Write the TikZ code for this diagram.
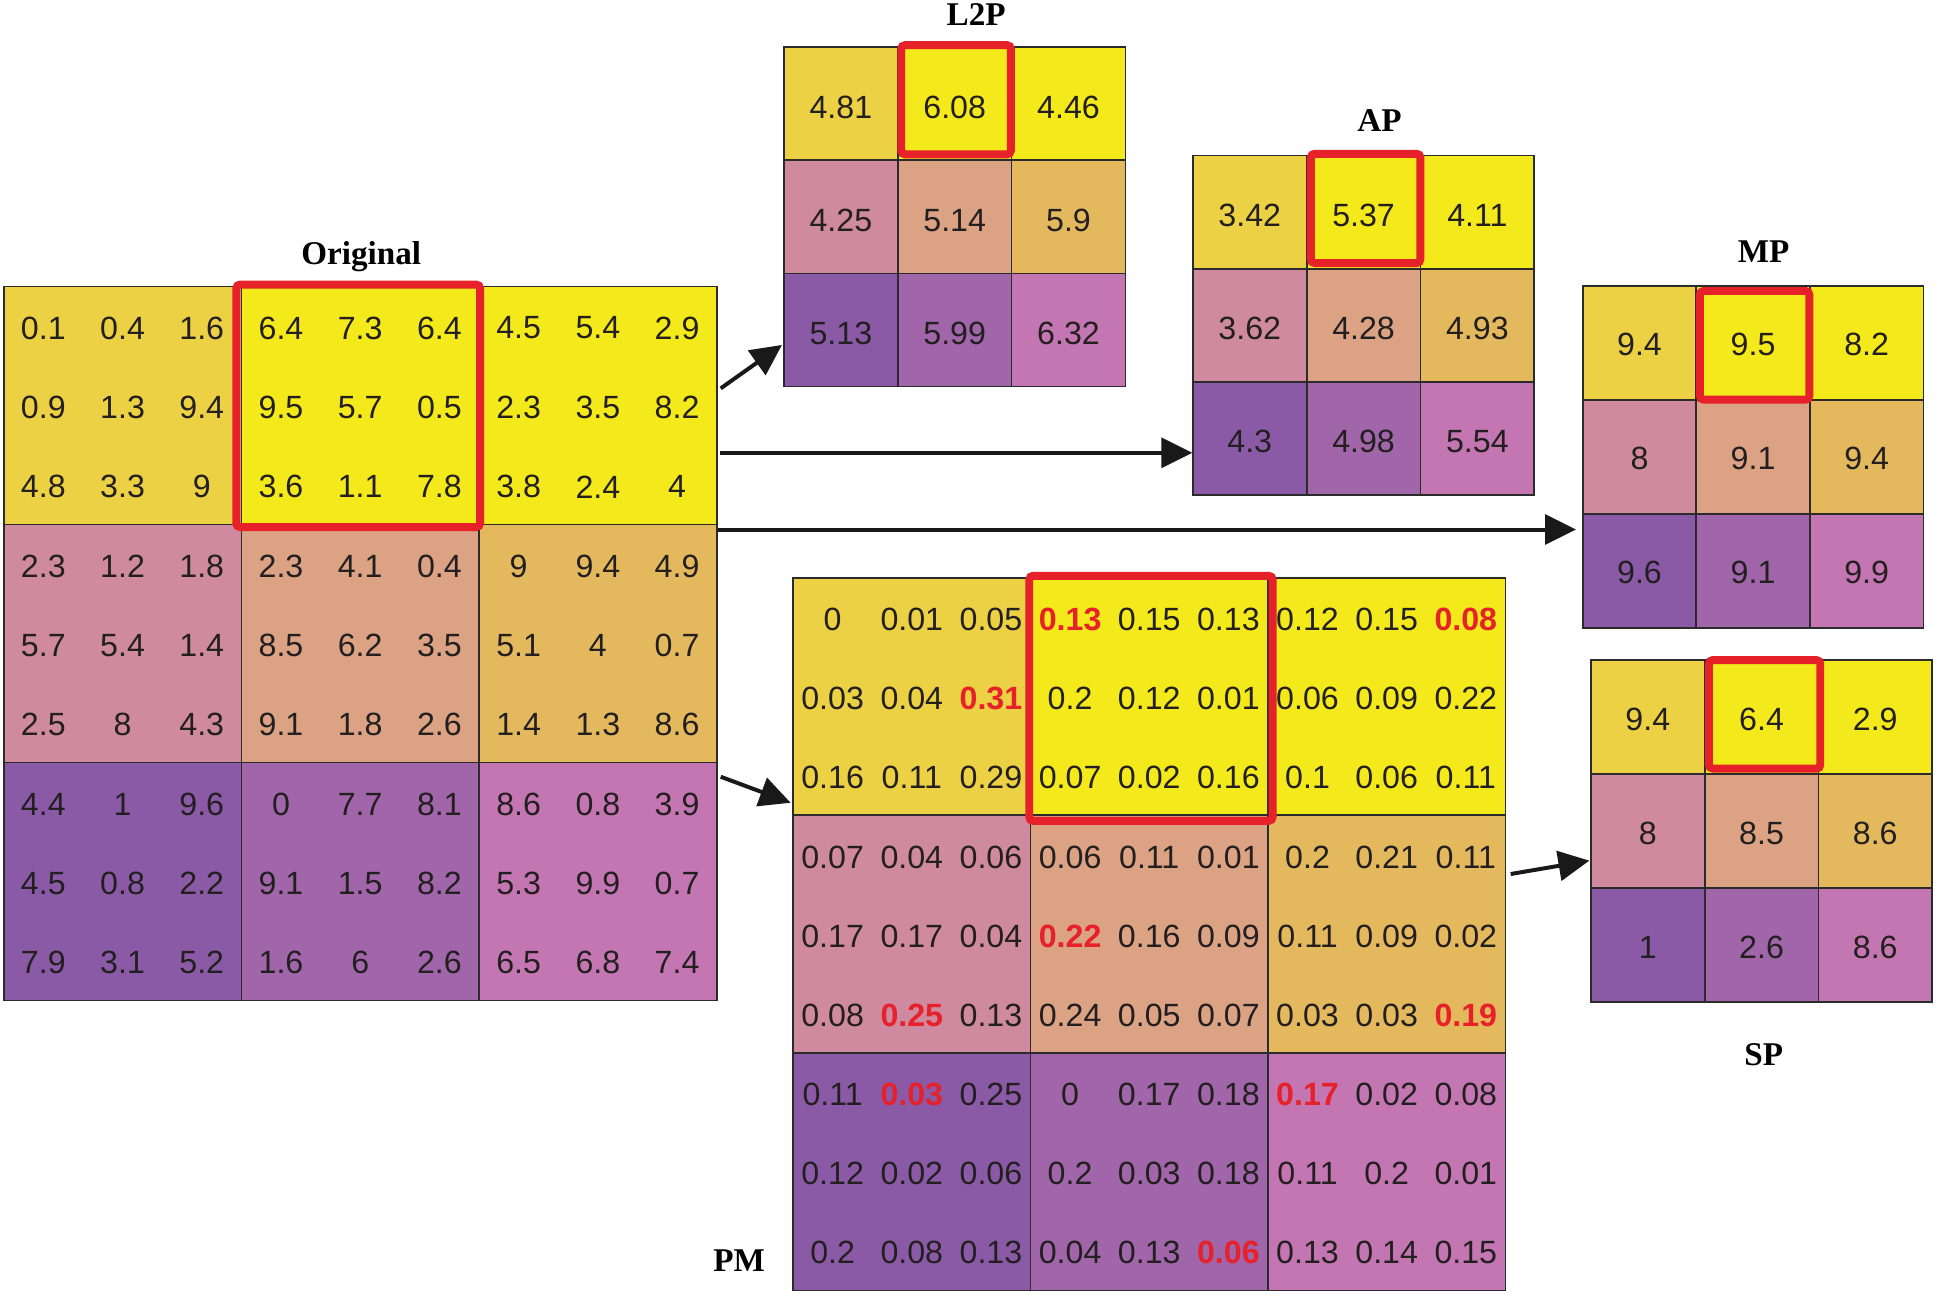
\documentclass[tikz,border=0pt]{standalone}
\usepackage{fontspec}
\setmainfont{Liberation Serif}
\newfontfamily\numfont{Liberation Sans}
\usetikzlibrary{arrows.meta}
\definecolor{cA}{HTML}{EBD143}
\definecolor{cB}{HTML}{F4E91B}
\definecolor{cC}{HTML}{CF8A9F}
\definecolor{cD}{HTML}{DBA283}
\definecolor{cE}{HTML}{E4B95E}
\definecolor{cF}{HTML}{8B5AA6}
\definecolor{cG}{HTML}{A165AA}
\definecolor{cH}{HTML}{C476B2}
\definecolor{redbox}{HTML}{E62129}
\definecolor{gline}{HTML}{2B2B2B}
\definecolor{txt}{HTML}{231F20}
\newcommand\R[1]{\textcolor{redbox}{\bfseries #1}}
\newcommand\poolblocks[4]{%
  \foreach \bc [count=\bk from 0] in {cA,cB,cB,cC,cD,cE,cF,cG,cH}{%
    \pgfmathtruncatemacro\bkr{\bk/3}%
    \pgfmathtruncatemacro\bkc{\bk-3*\bkr}%
    \fill[\bc] ({#1+\bkc*#3},{#2+\bkr*#4}) rectangle ++(#3,#4);
  }%
  \foreach \bk in {0,...,8}{%
    \pgfmathtruncatemacro\bkr{\bk/3}%
    \pgfmathtruncatemacro\bkc{\bk-3*\bkr}%
    \draw[gridline] ({#1+\bkc*#3},{#2+\bkr*#4}) rectangle ++(#3,#4);
  }}
\newcommand\poolnums[6]{%
  \foreach \nrow [count=\ni] in {#6}{%
    \foreach \nv [count=\nj] in \nrow {%
      \node[num] (#1-\ni-\nj) at ({#2+(\nj-0.5)*#4},{#3+(\ni-0.5)*#5}) {\nv};
    }}}
\tikzset{
  num/.style={font=\numfont\fontsize{13}{14}\selectfont, text=txt, inner sep=0pt, yshift=-0.8pt},
  title/.style={font=\fontsize{13.4}{15}\selectfont\bfseries, anchor=base, inner sep=0pt, text=black},
  gridline/.style={draw=gline, line width=0.7pt},
  hilite/.style={draw=redbox, line width=3.2pt, rounded corners=1.5pt},
  arr/.style={draw=black!90, line width=1.6pt, -{Triangle[length=12.5pt,width=12pt]}}
}
\begin{document}
\begin{tikzpicture}[x=0.5pt,y=-0.5pt]
\useasboundingbox (0,0) rectangle (1568,1051);

% ---------- Original ----------
\poolblocks{3}{231.5}{192.1}{192.4}
\poolnums{o}{3}{231.5}{64.03}{64.13}{%
 {0.1,0.4,1.6,6.4,7.3,6.4,4.5,5.4,2.9},
 {0.9,1.3,9.4,9.5,5.7,0.5,2.3,3.5,8.2},
 {4.8,3.3,9,3.6,1.1,7.8,3.8,2.4,4},
 {2.3,1.2,1.8,2.3,4.1,0.4,9,9.4,4.9},
 {5.7,5.4,1.4,8.5,6.2,3.5,5.1,4,0.7},
 {2.5,8,4.3,9.1,1.8,2.6,1.4,1.3,8.6},
 {4.4,1,9.6,0,7.7,8.1,8.6,0.8,3.9},
 {4.5,0.8,2.2,9.1,1.5,8.2,5.3,9.9,0.7},
 {7.9,3.1,5.2,1.6,6,2.6,6.5,6.8,7.4}}
\draw[hilite] (191,230) rectangle (388,426);
\node[title] (t-orig) at (292,214) {Original};

% ---------- L2P ----------
\poolblocks{633.6}{38.2}{92}{91.4}
\poolnums{l}{633.6}{39.2}{92}{91.4}{%
 {4.81,6.08,4.46},{4.25,5.14,5.9},{5.13,5.99,6.32}}
\draw[hilite] (728.4,36.5) rectangle (817,124.7);
\node[title] (t-l2p) at (789,21) {L2P};

% ---------- AP ----------
\poolblocks{964.1}{125.7}{92}{91.5}
\poolnums{a}{964.1}{126.7}{92}{91.5}{%
 {3.42,5.37,4.11},{3.62,4.28,4.93},{4.3,4.98,5.54}}
\draw[hilite] (1059.5,124.3) rectangle (1148,212.6);
\node[title] (t-ap) at (1115,106) {AP};

% ---------- MP ----------
\poolblocks{1279.2}{231.1}{91.8}{92.1}
\poolnums{m}{1279.2}{231.1}{91.8}{92.1}{%
 {9.4,9.5,8.2},{8,9.1,9.4},{9.6,9.1,9.9}}
\draw[hilite] (1373.9,235.2) rectangle (1462.4,323);
\node[title] (t-mp) at (1425.5,212) {MP};

% ---------- SP ----------
\poolblocks{1285.9}{533.7}{91.9}{92.1}
\poolnums{s}{1285.9}{533.7}{91.9}{92.1}{%
 {9.4,6.4,2.9},{8,8.5,8.6},{1,2.6,8.6}}
\draw[hilite] (1381.3,533.5) rectangle (1471.2,621.2);
\node[title] (t-sp) at (1425.5,861) {SP};

% ---------- PM ----------
\poolblocks{641}{467}{191.9}{192}
\poolnums{p}{641}{467}{63.97}{64}{%
 {0,0.01,0.05,\R{0.13},0.15,0.13,0.12,0.15,\R{0.08}},
 {0.03,0.04,\R{0.31},0.2,0.12,0.01,0.06,0.09,0.22},
 {0.16,0.11,0.29,0.07,0.02,0.16,0.1,0.06,0.11},
 {0.07,0.04,0.06,0.06,0.11,0.01,0.2,0.21,0.11},
 {0.17,0.17,0.04,\R{0.22},0.16,0.09,0.11,0.09,0.02},
 {0.08,\R{0.25},0.13,0.24,0.05,0.07,0.03,0.03,\R{0.19}},
 {0.11,\R{0.03},0.25,0,0.17,0.18,\R{0.17},0.02,0.08},
 {0.12,0.02,0.06,0.2,0.03,0.18,0.11,0.2,0.01},
 {0.2,0.08,0.13,0.04,0.13,\R{0.06},0.13,0.14,0.15}}
\draw[hilite] (831.9,465.4) rectangle (1028.6,663.4);
\node[title] (t-pm) at (597.5,1028) {PM};

% ---------- arrows ----------
\coordinate (a1s) at (582.5,313.9); \coordinate (a1e) at (632,278.8);
\coordinate (a2s) at (582,366);     \coordinate (a2e) at (963.7,366);
\coordinate (a3s) at (580,428);     \coordinate (a3e) at (1273.8,428);
\coordinate (a4s) at (582.5,627.8); \coordinate (a4e) at (639,648.8);
\coordinate (a5s) at (1221,706.4);  \coordinate (a5e) at (1284.6,695.6);
\draw[arr] (a1s) -- (a1e);
\draw[arr] (a2s) -- (a2e);
\draw[arr] (a3s) -- (a3e);
\draw[arr] (a4s) -- (a4e);
\draw[arr] (a5s) -- (a5e);
\end{tikzpicture}
\end{document}
